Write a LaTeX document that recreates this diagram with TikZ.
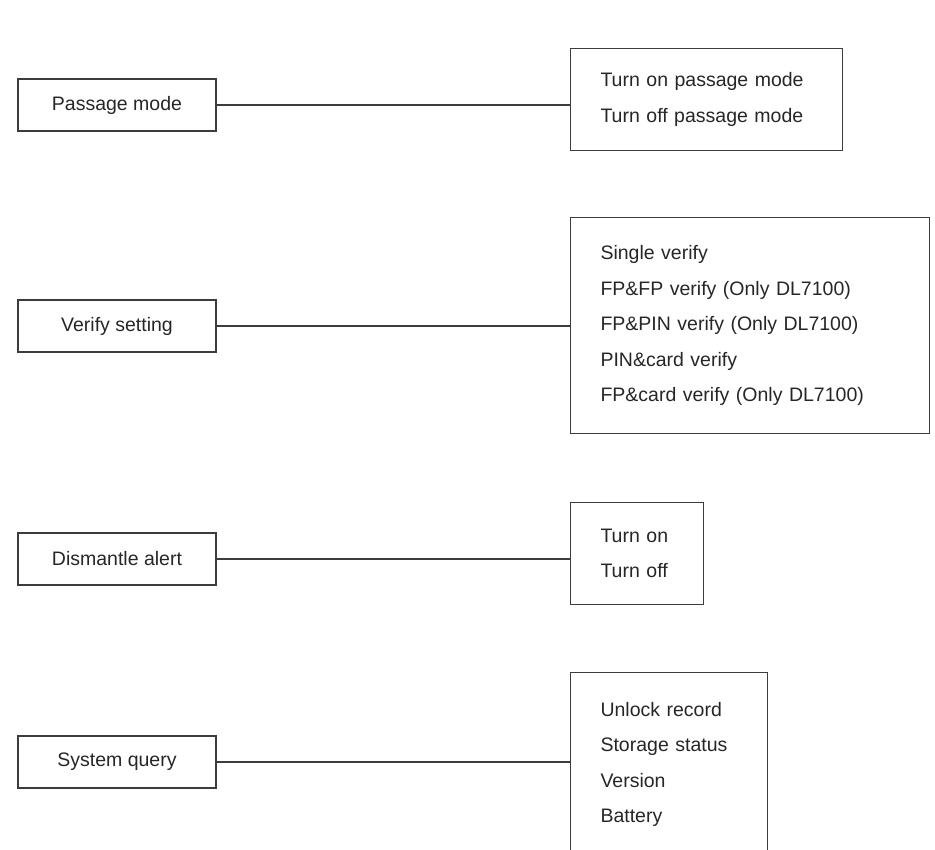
\documentclass[tikz,border=0pt]{standalone}
\usepackage{fontspec}
\setmainfont{Liberation Sans}
\usepackage{xcolor}
\usepackage{tikz}

\definecolor{linegray}{HTML}{3C3C3C}
\definecolor{textgray}{HTML}{262626}

\tikzset{
    menu/.style={draw=linegray, line width=1.1pt, text=textgray, inner sep=0pt,
        minimum width=198pt, minimum height=52pt, font=\fontsize{19.5}{35.5}\selectfont},
    choices/.style={draw=linegray, line width=1.1pt, text=textgray, inner xsep=30pt,
        inner ysep=0pt, align=left, anchor=north west, font=\fontsize{19.5}{35.5}\selectfont}
}

\begin{document}
\begin{tikzpicture}[x=1pt, y=-1pt]
            \useasboundingbox (0, 0) rectangle (935, 850);

            \node (pass) at (117, 105) [menu] {Passage mode};
            \node (verify) at (117, 326) [menu] {Verify setting};
            \node (alert) at (117, 559) [menu] {Dismantle alert};
            \node (query) at (117, 762) [menu] {System query};

            \node (passopts) at (570, 48) [choices, text width=212pt, minimum height=102pt]
                {Turn on passage mode\\Turn off passage mode};
            \node (verifyopts) at (570, 217) [choices, text width=299pt, minimum height=216pt]
                {Single verify\\FP\&FP verify (Only DL7100)\\FP\&PIN verify (Only DL7100)\\PIN\&card verify\\FP\&card verify (Only DL7100)};
            \node (alertopts) at (570, 502) [choices, text width=73pt, minimum height=102pt]
                {Turn on\\Turn off};
            \node (queryopts) at (570, 672) [choices, text width=137pt, minimum height=184pt]
                {Unlock record\\Storage status\\Version\\Battery};

            %Each menu item goes straight across to its list of options.
            \draw[linegray, line width=1.1pt] (pass) -- (pass -| passopts.west);
            \draw[linegray, line width=1.1pt] (verify) -- (verify -| verifyopts.west);
            \draw[linegray, line width=1.1pt] (alert) -- (alert -| alertopts.west);
            \draw[linegray, line width=1.1pt] (query) -- (query -| queryopts.west);
        \end{tikzpicture}
\end{document}
